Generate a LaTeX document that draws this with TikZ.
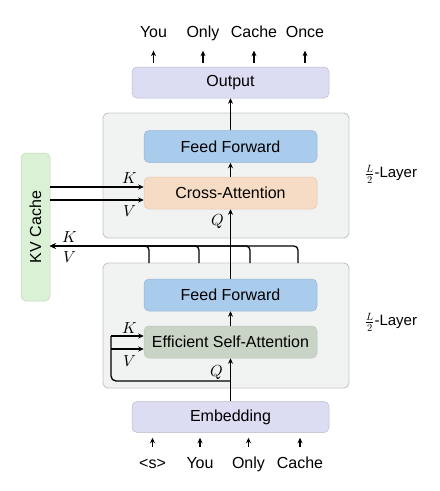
\documentclass[tikz,border=0pt]{standalone}
\usepackage{fontspec}
\usepackage{unicode-math}
\setmainfont{Liberation Sans}
\usetikzlibrary{arrows.meta,positioning}
\definecolor{embfill}{HTML}{DCDCF2}
\definecolor{ffill}{HTML}{A9CBEC}
\definecolor{cafill}{HTML}{F6DCC4}
\definecolor{esafill}{HTML}{C9D4C6}
\definecolor{kvfill}{HTML}{DAF1D5}
\definecolor{layerfill}{HTML}{F1F2F2}
\definecolor{layerline}{HTML}{C4C5C5}
\tikzset{
  layerbox/.style={rectangle, rounded corners=5pt, fill=layerfill, draw=layerline, line width=0.9pt,
                   minimum width=246pt, minimum height=125pt, inner sep=0pt},
  block/.style={rectangle, rounded corners=5pt, line width=0.5pt, inner sep=0pt,
                minimum width=173pt, minimum height=32pt},
  iobox/.style={rectangle, rounded corners=5pt, fill=embfill, draw=embfill!85!black, line width=0.5pt,
                inner sep=0pt, minimum width=197pt, minimum height=31pt},
  tok/.style={inner sep=0pt, text height=12pt, text depth=3.5pt},
  lbl/.style={inner sep=0pt}
}
\begin{document}
\begin{tikzpicture}[x=1pt, y=-1pt, font=\fontsize{16}{19}\selectfont,
                    >={Stealth[length=5.5pt,width=5pt]}, line width=1.3pt]
  \useasboundingbox (0,0) rectangle (440,491);

  \node[layerbox] (upper) at (226,175.5) {};
  \node[layerbox] (lower) at (226,325.5) {};

  \node[iobox] (Output) at (230.5,82.5) {Output};
  \node[iobox] (Emb) at (230.5,417) {Embedding};
  \node[block, fill=ffill, draw=ffill!90!black] (FF1) at (230.5,146.5) {Feed Forward};
  \node[block, fill=cafill, draw=cafill!92!black] (CA) at (230.5,193) {Cross-Attention};
  \node[block, fill=ffill, draw=ffill!90!black] (FF2) at (230.5,295) {Feed Forward};
  \node[block, fill=esafill, draw=esafill!92!black] (ESA) at (230.5,342) {Efficient Self-Attention};
  \node[rectangle, rounded corners=5pt, fill=kvfill, draw=kvfill!88!black, line width=0.5pt,
        minimum width=148pt, minimum height=29pt, inner sep=0pt, rotate=90] (KV) at (35.5,227) {KV Cache};

  \node (ly1) at (391,174) {\fontsize{15}{18}\selectfont$\frac{L}{2}$-Layer};
  \node (ly2) at (391,322) {\fontsize{15}{18}\selectfont$\frac{L}{2}$-Layer};

  \begin{scope}[every node/.style={tok}]
    \node (o1) at (153.5,33) {You};
    \node (o2) at (203,33) {Only};
    \node (o3) at (254,33) {Cache};
    \node (o4) at (305,33) {Once};
    \node (i1) at (152.5,464) {<s>};
    \node (i2) at (200,464) {You};
    \node (i3) at (248.5,464) {Only};
    \node (i4) at (300,464) {Cache};
  \end{scope}

  \begin{scope}[every node/.style={lbl}]
    \node (kca) at (130,178) {$K$};
    \node (vca) at (130,211) {$V$};
    \node (qca) at (218,221) {$Q$};
    \node (kbus) at (70,237) {$K$};
    \node (vbus) at (70,257) {$V$};
    \node (kesa) at (130,328) {$K$};
    \node (vesa) at (130,361) {$V$};
    \node (qesa) at (217,372) {$Q$};
  \end{scope}

  \coordinate (qs) at (230.5,381);
  \coordinate (loopk) at (111,336);
  \coordinate (loopv) at (111,349);
  \coordinate (kvin) at (50,246);
  \coordinate (d1) at (149,263);
  \coordinate (d2) at (199,263);
  \coordinate (d3) at (250,263);
  \coordinate (d4) at (298,263);

  \begin{scope}[shorten <=4pt, shorten >=9.25pt]
    \draw[->] (Output.north -| o1) -- (o1.south);
    \draw[->] (Output.north -| o2) -- (o2.south);
    \draw[->] (Output.north -| o3) -- (o3.south);
    \draw[->] (Output.north -| o4) -- (o4.south);
  \end{scope}
  \begin{scope}[shorten <=8.25pt, shorten >=5pt]
    \draw[->] (i1.north) -- (Emb.south -| i1);
    \draw[->] (i2.north) -- (Emb.south -| i2);
    \draw[->] (i3.north) -- (Emb.south -| i3);
    \draw[->] (i4.north) -- (Emb.south -| i4);
  \end{scope}

  \draw[->] (Emb.north) -- (ESA.south);
  \draw[->] (ESA.north) -- (FF2.south);
  \draw[->] (FF2.north) -- (CA.south);
  \draw[->] (CA.north) -- (FF1.south);
  \draw[->] (FF1.north) -- (Output.south);

  \draw[rounded corners=5pt] (qs) -| (loopv) -- (loopk);
  \draw[->] (loopk) -- (loopk -| ESA.west);
  \draw[->] (loopv) -- (loopv -| ESA.west);

  \draw[->] ([yshift=6pt]CA.west -| KV.south) -- ([yshift=6pt]CA.west);
  \draw[->] ([yshift=-7pt]CA.west -| KV.south) -- ([yshift=-7pt]CA.west);

  \draw[->, rounded corners=4pt] (d1) |- (kvin);
  \draw[->, rounded corners=4pt] (d2) |- (kvin);
  \draw[->, rounded corners=4pt] (d3) |- (kvin);
  \draw[->, rounded corners=4pt] (d4) |- (kvin);
\end{tikzpicture}
\end{document}
